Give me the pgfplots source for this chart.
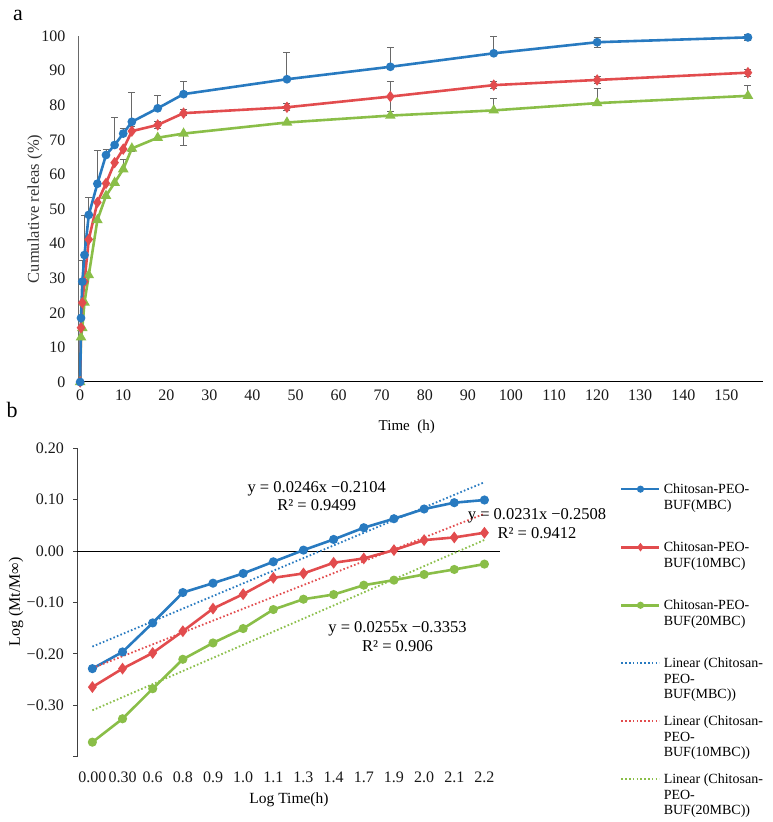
\documentclass[border=0pt]{standalone}
\usepackage{pgfplots}
\pgfplotsset{compat=1.18}
\usepackage{pgfplotstable}
\usepackage{fontspec}
\setmainfont{Liberation Serif}
\definecolor{cblue}{RGB}{40,122,192}
\definecolor{cred}{RGB}{226,76,78}
\definecolor{cgreen}{RGB}{138,190,72}
\definecolor{cgray}{RGB}{105,105,105}
\newcommand{\lent}[1]{\begin{tabular}[t]{@{}l@{}}#1\end{tabular}}

% ---------- panel a ----------
\pgfplotstableread{
t y
0 0
0.2 18.5
0.5 29.0
1 36.7
2 48.3
4 57.3
6 65.6
8 68.5
10 71.8
12 75.2
18 79.1
24 83.2
48 87.5
72 91.1
96 95.0
120 98.2
155 99.6
}\blueA
\pgfplotstableread{
t y
0 0
0.2 15.7
0.5 22.9
1 29.0
2 41.2
4 51.9
6 57.4
8 63.4
10 67.3
12 72.5
18 74.3
24 77.7
48 79.4
72 82.5
96 85.8
120 87.3
155 89.4
}\redA
\pgfplotstableread{
t y
0 0
0.2 12.9
0.5 15.6
1 23.0
2 30.9
4 46.8
6 53.8
8 57.6
10 61.5
12 67.5
18 70.6
24 71.8
48 75.0
72 77.0
96 78.5
120 80.6
155 82.7
}\greenA
\pgfplotstableread{
t y e
0.5 29.0 6
1 36.7 11.5
2 48.3 5
4 57.3 9.7
6 65.6 1.5
8 68.5 8
10 71.8 1.5
12 75.2 8.5
18 79.1 3.7
24 83.2 3.6
48 87.5 7.8
72 91.1 5.5
96 95.0 5
120 98.2 1.5
155 99.6 0.8
}\blueAplus
\pgfplotstableread{
t y e
24 83.2 0.5
120 98.2 1.5
155 99.6 0.8
}\blueAminus
\pgfplotstableread{
t y e
12 72.5 1.3
18 74.3 1.1
24 77.7 1.1
48 79.4 1.0
72 82.5 4.3
96 85.8 1.0
120 87.3 1.0
155 89.4 1.0
}\redAplus
\pgfplotstableread{
t y e
18 74.3 1.1
24 77.7 0.8
48 79.4 1.0
72 82.5 4.3
96 85.8 1.0
120 87.3 1.0
155 89.4 1.0
}\redAminus
\pgfplotstableread{
t y e
10 61.5 2.7
96 78.5 3.5
120 80.6 4.1
155 82.7 3.1
}\greenAplus
\pgfplotstableread{
t y e
12 67.5 1.0
24 71.8 3.3
}\greenAminus

% ---------- panel b ----------
\pgfplotstableread{
x y
0 -0.2287
1 -0.1962
2 -0.1397
3 -0.0806
4 -0.0624
5 -0.0435
6 -0.0208
7 0.0019
8 0.0227
9 0.0455
10 0.0630
11 0.0819
12 0.0942
13 0.0994
}\blueB
\pgfplotstableread{
x y
0 -0.2645
1 -0.2287
2 -0.1982
3 -0.1559
4 -0.1118
5 -0.0838
6 -0.0520
7 -0.0435
8 -0.0227
9 -0.0143
10 0.0019
11 0.0214
12 0.0266
13 0.0357
}\redB
\pgfplotstableread{
x y
0 -0.3717
1 -0.3262
2 -0.2677
3 -0.2105
4 -0.1787
5 -0.1507
6 -0.1137
7 -0.0936
8 -0.0845
9 -0.0663
10 -0.0565
11 -0.0455
12 -0.0357
13 -0.0253
}\greenB
\pgfplotstableread{
x y
0 -0.1858
13 0.1340
}\blueT
\pgfplotstableread{
x y
0 -0.2277
13 0.0726
}\redT
\pgfplotstableread{
x y
0 -0.3098
13 0.0217
}\greenT

\begin{document}
\begin{tikzpicture}
\path[use as bounding box] (0pt,0pt) rectangle (772pt,822pt);

% ===== panel a =====
\begin{axis}[
  at={(78pt,440pt)}, anchor=south west, scale only axis,
  width=685pt, height=346pt,
  xmin=-0.5, xmax=158.5, ymin=0, ymax=100,
  axis x line*=bottom, axis y line*=left,
  axis line style={-},
  x axis line style={black, line width=1pt},
  y axis line style={cgray, line width=1pt},
  xtick={0,10,...,150}, ytick={0,10,...,100},
  major tick length=0pt,
  tick label style={font=\fontsize{16}{19}\selectfont, text=black!90},
  /pgf/number format/assume math mode=true,
  xticklabel style={yshift=-4pt},
  yticklabel style={xshift=-9pt},
  xlabel={Time\ \ (h)}, ylabel={Cumulative\ releas (\%)},
  xlabel style={at={(axis description cs:0.480,-0.130)}, anchor=center, font=\fontsize{15}{18}\selectfont},
  ylabel style={at={(axis description cs:-0.0628,0.5)}, anchor=center, font=\fontsize{16.5}{19}\selectfont, text=black!80},
  clip=false,
]
\pgfplotsset{errp/.style={draw=none, forget plot, error bars/.cd, y dir=plus, y explicit,
    error bar style={draw=cgray, line width=0.9pt},
    error mark options={draw=cgray, rotate=90, mark size=3.5pt, line width=0.9pt}},
  errm/.style={draw=none, forget plot, error bars/.cd, y dir=minus, y explicit,
    error bar style={draw=cgray, line width=0.9pt},
    error mark options={draw=cgray, rotate=90, mark size=3.5pt, line width=0.9pt}}}
\addplot[errp] table[x=t, y=y, y error=e]{\blueAplus};
\addplot[errm] table[x=t, y=y, y error=e]{\blueAminus};
\addplot[errp] table[x=t, y=y, y error=e]{\redAplus};
\addplot[errm] table[x=t, y=y, y error=e]{\redAminus};
\addplot[errp] table[x=t, y=y, y error=e]{\greenAplus};
\addplot[errm] table[x=t, y=y, y error=e]{\greenAminus};

\addplot[cgreen, line width=2.6pt, mark=triangle*, mark size=3.6pt, mark options={solid}] table[x=t, y=y]{\greenA};
\addplot[cred, line width=2.6pt, mark=diamond*, mark size=3.6pt, mark options={solid}] table[x=t, y=y]{\redA};
\addplot[cblue, line width=2.6pt, mark=*, mark size=3pt, mark options={solid}] table[x=t, y=y]{\blueA};
\end{axis}

% ===== panel b =====
\begin{axis}[
  at={(77.3pt,65.3pt)}, anchor=south west, scale only axis,
  width=422.2pt, height=308.4pt,
  xmin=-0.5, xmax=13.5, ymin=-0.4, ymax=0.2,
  axis x line*=bottom, axis y line*=left, axis line style={-},
  x axis line style={draw=none},
  y axis line style={black!75, line width=1pt},
  xtick={0,1,2,3,4,5,6,7,8,9,10,11,12,13},
  xticklabels={0.00,0.30,0.6,0.8,0.9,1.0,1.1,1.3,1.4,1.7,1.9,2.0,2.1,2.2},
  ytick={-0.4,-0.3,-0.2,-0.1,0,0.1,0.2},
  yticklabels={,−0.30,−0.20,−0.10,0.00,0.10,0.20},
  xtick style={draw=none},
  ytick style={black!75, line width=1pt},
  tick align=outside, major tick length=4pt,
  tick label style={font=\fontsize{16}{19}\selectfont, text=black!90},
  xticklabel style={yshift=-8pt},
  yticklabel style={xshift=-6pt},
  xlabel={Log Time(h)}, ylabel={Log (Mt/M∞)},
  xlabel style={at={(axis description cs:0.5014,-0.1404)}, anchor=center, font=\fontsize{15.5}{18}\selectfont},
  ylabel style={at={(axis description cs:-0.1452,0.5016)}, anchor=center, font=\fontsize{16}{19}\selectfont},
  clip=false,
  legend image code/.code={\draw[mark repeat=2, mark phase=2, #1, mark size=2.2pt] plot coordinates {(0pt,4.5pt) (19pt,4.5pt) (38pt,4.5pt)};},
  legend style={at={(axis description cs:1.2854,0.8888)}, anchor=north west,
    draw=none, fill=none, inner sep=0pt, row sep=45.7pt, column sep=3pt,
    cells={anchor=base west}, nodes={inner sep=0pt},
    font=\fontsize{14}{15.5}\selectfont},
]
\draw[black, line width=1pt] (axis cs:-0.5,0) -- (axis cs:13.5,0);
\addplot[cblue, line width=2.6pt, mark=*, mark size=3.2pt, mark options={solid}] table[x=x, y=y]{\blueB};
\addplot[cred, line width=2.6pt, mark=diamond*, mark size=3.8pt, mark options={solid}] table[x=x, y=y]{\redB};
\addplot[cgreen, line width=2.6pt, mark=*, mark size=3.2pt, mark options={solid}] table[x=x, y=y]{\greenB};
\addplot[cblue, line width=1.8pt, dash pattern=on 1.6pt off 2.2pt, no marks] table[x=x, y=y]{\blueT};
\addplot[cred, line width=1.8pt, dash pattern=on 1.6pt off 2.2pt, no marks] table[x=x, y=y]{\redT};
\addplot[cgreen, line width=1.8pt, dash pattern=on 1.6pt off 2.2pt, no marks] table[x=x, y=y]{\greenT};
\legend{{\lent{Chitosan-PEO-\\BUF(MBC)}},
        {\lent{Chitosan-PEO-\\BUF(10MBC)}},
        {\lent{Chitosan-PEO-\\BUF(20MBC)}},
        {\lent{Linear (Chitosan-\\PEO-\\BUF(MBC))}},
        {\lent{Linear (Chitosan-\\PEO-\\BUF(10MBC))}},
        {\lent{Linear (Chitosan-\\PEO-\\BUF(20MBC))}}}
\end{axis}

% annotations and panel letters
\node[align=center, font=\fontsize{16.5}{18.5}\selectfont] at (316.7pt,326pt) {y = 0.0246x −0.2104\\R² = 0.9499};
\node[align=center, font=\fontsize{16.5}{18.5}\selectfont] at (537pt,298.5pt) {y = 0.0231x −0.2508\\R² = 0.9412};
\node[align=center, font=\fontsize{16.5}{18.5}\selectfont] at (397.5pt,185.5pt) {y = 0.0255x −0.3353\\R² = 0.906};
\node[font=\fontsize{22}{24}\selectfont] at (18pt,807pt) {a};
\node[font=\fontsize{22}{24}\selectfont] at (12pt,412pt) {b};
\end{tikzpicture}
\end{document}
